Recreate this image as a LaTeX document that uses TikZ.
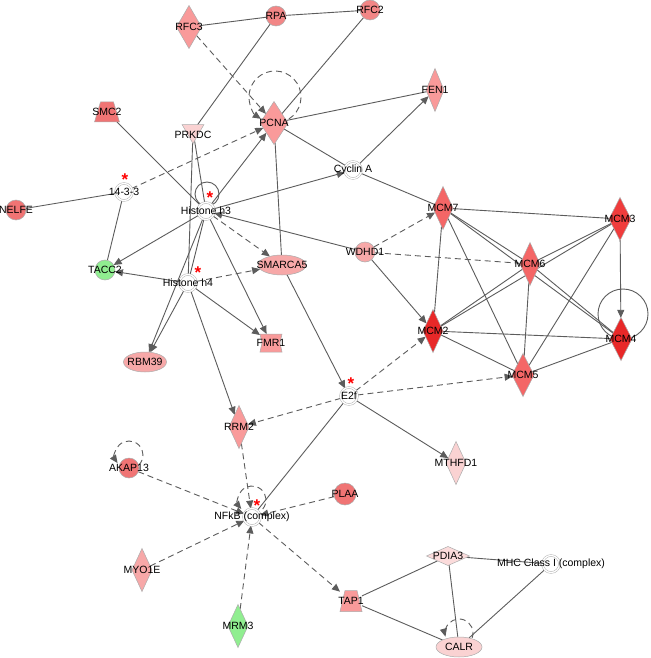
\documentclass[tikz,border=0pt]{standalone}
\usepackage{fontspec}
\setmainfont{Liberation Sans}
\usetikzlibrary{shapes.geometric,arrows.meta}
\definecolor{cln}{HTML}{5C5C5C}
\definecolor{csal}{HTML}{F99A9A}
\definecolor{csalb}{HTML}{F28686}
\definecolor{csalc}{HTML}{F07474}
\definecolor{cmcml}{HTML}{F46666}
\definecolor{cmcmd}{HTML}{E82828}
\definecolor{cmcmt}{HTML}{F03C3C}
\definecolor{cpale}{HTML}{F7A8A8}
\definecolor{cpink}{HTML}{FAD2D2}
\definecolor{cgrn}{HTML}{90EE90}
\pgfdeclarelayer{background}
\pgfdeclarelayer{edges}
\pgfsetlayers{background,edges,main}
\begin{document}
\begin{tikzpicture}[x=1pt,y=1pt,
  base/.style={draw=gray!65, line width=0.5pt, inner sep=0pt, outer sep=0pt},
  shp/.style={draw=gray!65, line width=0.5pt},
  lbl/.style={font=\fontsize{10.5}{12}\selectfont, text=black, inner sep=0pt},
  enz/.style={base, diamond, minimum width=20pt, minimum height=43pt},
  oth/.style={base, circle, minimum size=20pt},
  cplx/.style={circle, draw=gray!60, line width=0.5pt, double=white, double distance=1.3pt, fill=white, minimum size=17pt, inner sep=0pt, outer sep=0pt},
  trx/.style={base, ellipse, minimum width=46pt, minimum height=20pt},
  ghost/.style={inner sep=0pt, outer sep=0pt},
  rel/.style={draw=cln, line width=0.9pt},
  act/.style={rel, -{Triangle[length=8pt,width=7pt]}},
  dsh/.style={rel, dash pattern=on 6pt off 4pt},
  dact/.style={dsh, -{Triangle[length=8pt,width=7pt]}},
  star/.style={text=red, font=\fontsize{17}{17}\selectfont\bfseries, inner sep=0pt}
]
\useasboundingbox (0,0) rectangle (650,-658);
\begin{pgfonlayer}{background}
\fill[white] (0,0) rectangle (650,-658);
\end{pgfonlayer}

% ---------- nodes ----------
\node[enz, fill=csal, minimum width=25pt, label={[lbl]center:RFC3}] (rfc3) at (189,-27) {};
\node[oth, fill=csalb, label={[lbl]center:RPA}] (rpa) at (276,-16) {};
\node[oth, fill=csalb, label={[lbl]center:RFC2}] (rfc2) at (370,-10) {};
\node[enz, fill=csal, minimum width=18pt, label={[lbl]center:FEN1}] (fen1) at (435,-90) {};
\node[enz, fill=csal, minimum width=28pt, label={[lbl]center:PCNA}] (pcna) at (274,-123) {};
% SMC2 (transporter, trapezium)
\coordinate (smcc) at (107,-112);
\filldraw[shp, fill=csalc] ([shift={(-12.5,-10)}]smcc) -- ([shift={(12.5,-10)}]smcc) -- ([shift={(6.5,10)}]smcc) -- ([shift={(-6.5,10)}]smcc) -- cycle;
\node[ghost, minimum width=25pt, minimum height=20pt, label={[lbl]center:SMC2}] (smc2) at (smcc) {};
\node[base, regular polygon, regular polygon sides=3, shape border rotate=180, minimum size=25pt, fill=cpink, label={[lbl,yshift=-4pt]center:PRKDC}] (prkdc) at (193,-131) {};
\node[cplx, label={[lbl]center:14-3-3}] (f33) at (124,-192) {};
\node[oth, fill=csalc, label={[lbl]center:NELFE}] (nelfe) at (16,-210) {};
\node[cplx, label={[lbl]center:Histone h3}] (h3) at (206,-211) {};
\node[cplx, label={[lbl]center:Cyclin A}] (cyca) at (353,-170) {};
\node[enz, fill=cmcml, label={[lbl]center:MCM7}] (mcm7) at (443,-208) {};
\node[enz, fill=cmcmt, minimum width=22pt, label={[lbl]center:MCM3}] (mcm3) at (620,-219) {};
\node[oth, fill=cpale, label={[lbl]center:WDHD1}] (wdhd1) at (365,-252) {};
\node[enz, fill=cmcml, label={[lbl]center:MCM6}] (mcm6) at (530,-264) {};
\node[enz, fill=cmcmd, label={[lbl]center:MCM2}] (mcm2) at (433,-331) {};
\node[enz, fill=cmcmd, minimum width=22pt, label={[lbl]center:MCM4}] (mcm4) at (621,-339) {};
\node[enz, fill=cmcml, minimum width=22pt, label={[lbl]center:MCM5}] (mcm5) at (523,-375) {};
\node[cplx, label={[lbl]center:E2f}] (e2f) at (349,-396) {};
\node[oth, fill=cgrn, label={[lbl]center:TACC2}] (tacc2) at (105,-270) {};
\node[cplx, label={[lbl]center:Histone h4}] (h4) at (188,-283) {};
\node[trx, fill=cpale, minimum width=48pt, label={[lbl]center:SMARCA5}] (smarca5) at (282,-265) {};
% FMR1 (translation regulator)
\coordinate (fmrc) at (271,-343);
\filldraw[shp, fill=csal]
  ([shift={(-11,9)}]fmrc) -- ([shift={(11,9)}]fmrc) -- ([shift={(9,0)}]fmrc) -- ([shift={(11,-9)}]fmrc)
  -- ([shift={(-11,-9)}]fmrc) -- ([shift={(-9,0)}]fmrc) -- cycle;
\node[ghost, minimum width=22pt, minimum height=18pt, label={[lbl]center:FMR1}] (fmr1) at (fmrc) {};
\node[trx, fill=cpale, minimum width=43pt, label={[lbl]center:RBM39}] (rbm39) at (145,-362) {};
\node[enz, fill=csal, label={[lbl]center:RRM2}] (rrm2) at (239,-427) {};
\node[oth, fill=csalc, label={[lbl]center:AKAP13}] (akap13) at (129,-468) {};
\node[cplx, label={[lbl]center:NFkB (complex)}] (nfkb) at (252,-517) {};
\node[oth, fill=csalc, minimum size=22pt, label={[lbl]center:PLAA}] (plaa) at (345,-494) {};
\node[enz, fill=cpink, label={[lbl]center:MTHFD1}] (mthfd1) at (456,-463) {};
\node[enz, fill=cpale, label={[lbl]center:MYO1E}] (myo1e) at (142,-570) {};
\node[enz, fill=cgrn, label={[lbl]center:MRM3}] (mrm3) at (238,-626) {};
\node[base, diamond, fill=cpink!80!white, minimum width=43pt, minimum height=19pt, label={[lbl]center:PDIA3}] (pdia3) at (448,-556) {};
\node[cplx, label={[lbl]center:MHC Class I (complex)}] (mhc) at (551,-564) {};
% TAP1 (transporter)
\coordinate (tapc) at (351,-601);
\filldraw[shp, fill=csal] ([shift={(-11,-10.5)}]tapc) -- ([shift={(11,-10.5)}]tapc) -- ([shift={(6,10.5)}]tapc) -- ([shift={(-6,10.5)}]tapc) -- cycle;
\node[ghost, minimum width=22pt, minimum height=21pt, label={[lbl]center:TAP1}] (tap1) at (tapc) {};
\node[trx, fill=cpink, label={[lbl]center:CALR}] (calr) at (459,-647) {};

% asterisks
\node[star] (s1) at (125,-180) {*};
\node[star] (s2) at (210,-198) {*};
\node[star] (s3) at (198,-273) {*};
\node[star] (s4) at (351,-384) {*};
\node[star] (s5) at (257,-506) {*};

% loop centres
\coordinate (lpcna) at (275,-97);
\coordinate (lh3) at (207,-194);
\coordinate (lmcm4) at (623,-314);
\coordinate (lakap) at (129,-455);
\coordinate (lnfkb) at (252,-500);
\coordinate (lcalr) at (459,-633);

% ---------- edges ----------
\begin{pgfonlayer}{edges}
\foreach \a/\b in {rfc3/rpa, rpa/rfc2, rpa/prkdc, rfc2/pcna, pcna/fen1, pcna/cyca, cyca/mcm7,
  smc2/h3, nelfe/f33, f33/tacc2, prkdc/h3, prkdc/h4, h3/h4, pcna/smarca5, e2f/nfkb,
  tap1/pdia3, tap1/calr, pdia3/calr, pdia3/mhc, mhc/calr,
  mcm7/mcm3, mcm7/mcm6, mcm7/mcm4, mcm7/mcm2, mcm7/mcm5, mcm3/mcm6, mcm3/mcm2, mcm3/mcm5,
  mcm6/mcm2, mcm6/mcm5, mcm6/mcm4, mcm2/mcm4, mcm2/mcm5, mcm5/mcm4}
  \draw[rel] (\a) -- (\b);
\foreach \a/\b in {cyca/fen1, h3/cyca, h3/pcna, h3/tacc2, h4/tacc2, h3/rbm39, h4/rbm39,
  h3/fmr1, h4/fmr1, h4/rrm2, wdhd1/h3, smarca5/e2f, wdhd1/mcm2, e2f/mthfd1, mcm3/mcm4}
  \draw[act] (\a) -- (\b);
\foreach \a/\b in {rfc3/pcna, f33/pcna, h3/smarca5, h4/smarca5, wdhd1/mcm7, e2f/mcm2, e2f/mcm5,
  e2f/rrm2, rrm2/nfkb, akap13/nfkb, plaa/nfkb, myo1e/nfkb, mrm3/nfkb, nfkb/tap1}
  \draw[dact] (\a) -- (\b);
\draw[dsh] (wdhd1) -- (mcm6);
\draw[dact] (lpcna) ++(-58:26) arc[start angle=-58, end angle=237, radius=26];
\draw[rel] (lh3) circle[radius=12];
\draw[rel] (lmcm4) circle[radius=25];
\draw[dact] (lakap) ++(-45:14) arc[start angle=-45, end angle=215, radius=14];
\draw[dact] (lnfkb) ++(-40:14) arc[start angle=-40, end angle=220, radius=14];
\draw[dact] (lcalr) ++(-20:14) arc[start angle=-20, end angle=195, radius=14];
\end{pgfonlayer}
\end{tikzpicture}
\end{document}
